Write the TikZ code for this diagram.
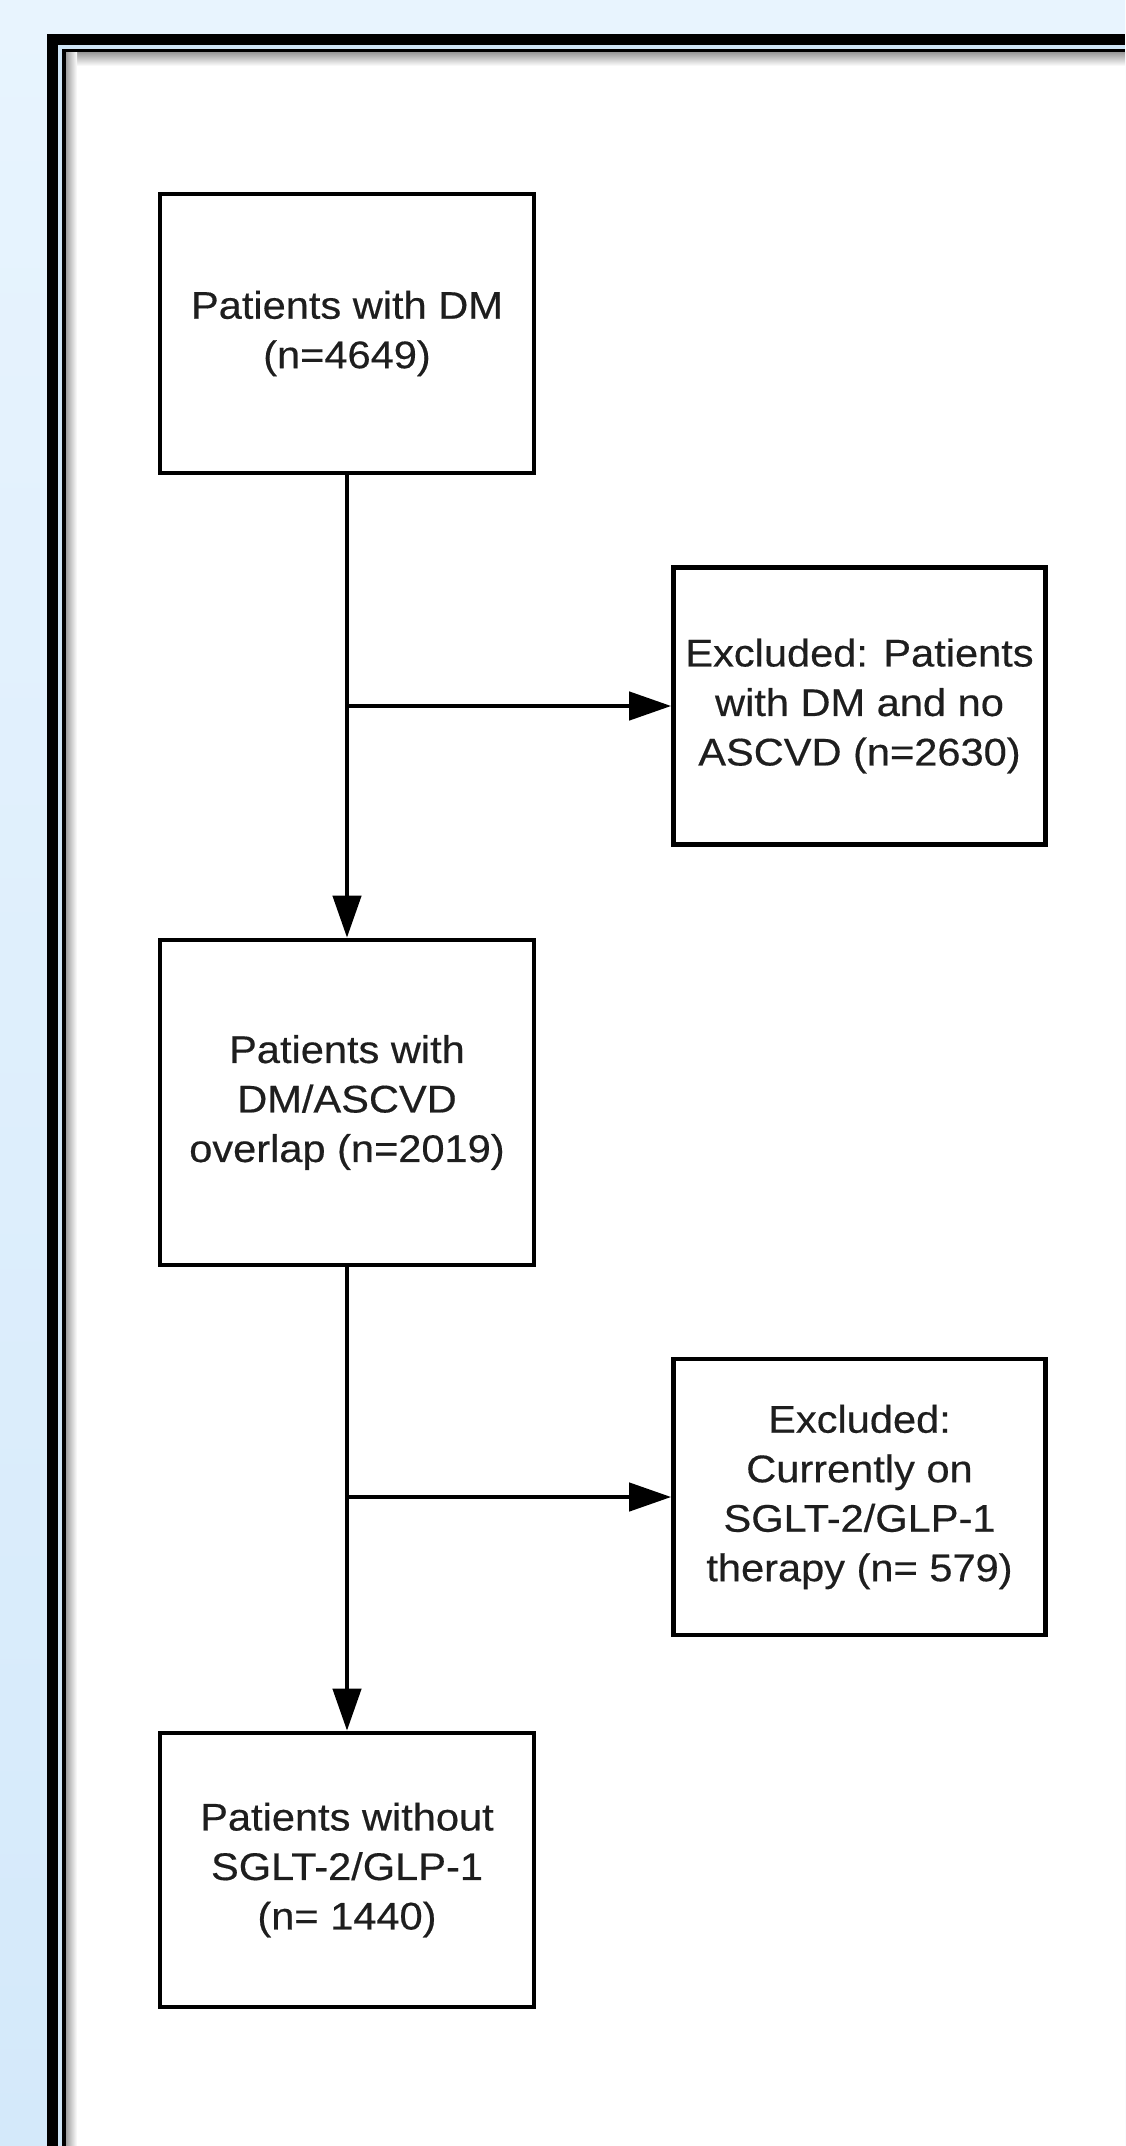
\documentclass[tikz,border=0pt]{standalone}
\usepackage{fontspec}
\setmainfont{Liberation Sans}[FakeStretch=1.08,FakeBold=0.4]
\usetikzlibrary{arrows.meta}
\definecolor{bgtop}{HTML}{E8F4FE}
\definecolor{bgbot}{HTML}{D4E9FA}
\definecolor{gapblue}{HTML}{CFE5F6}
\definecolor{txt}{HTML}{1E1E1E}
\begin{document}
\begin{tikzpicture}[x=1pt,y=-1pt,
  box/.style={draw=black, line width=4.6pt, fill=white, inner sep=0pt, align=center, text=txt,
              font=\fontsize{38.5}{49.5}\selectfont},
  lbox/.style={box, minimum width=374pt},
  rbox/.style={box, minimum width=372pt},
  conn/.style={line width=4.4pt, -{Triangle[length=42pt,width=28pt]}}]
\useasboundingbox (0,0) rectangle (1125,2146);
% background and frame
\shade[top color=bgtop, bottom color=bgbot] (0,0) rectangle (1125,2146);
\fill[black] (47,34) rectangle (1125,2146);
\fill[gapblue] (58,45) rectangle (1125,2146);
\fill[black] (62,49) rectangle (1125,2146);
\fill[white] (66,53) rectangle (1125,2146);
\shade[top color=gray!75, bottom color=white] (66,53) rectangle (1125,66);
\shade[left color=gray!75, right color=white] (66,53) rectangle (77,2146);
% boxes
\node[lbox, minimum height=279pt] (dm) at (347,333.5) {Patients with DM\\(n=4649)};
\node[rbox, minimum height=277pt] (ex1) at (859.5,706) {Excluded: Patients\\with DM and no\\ASCVD (n=2630)};
\node[lbox, minimum height=325pt] (ov) at (347,1102.5) {Patients with\\DM/ASCVD\\overlap (n=2019)};
\node[rbox, minimum height=276pt] (ex2) at (859.5,1497) {Excluded:\\Currently on\\SGLT-2/GLP-1\\therapy (n= 579)};
\node[lbox, minimum height=274pt] (wo) at (347,1870) {Patients without\\SGLT-2/GLP-1\\(n= 1440)};
% connectors
\draw[conn] (dm.south) -- (ov.north);
\coordinate (j1) at (dm.south |- ex1.west);
\draw[conn] (j1) -- (ex1.west);
\draw[conn] (ov.south) -- (wo.north);
\coordinate (j2) at (ov.south |- ex2.west);
\draw[conn] (j2) -- (ex2.west);
\end{tikzpicture}
\end{document}
